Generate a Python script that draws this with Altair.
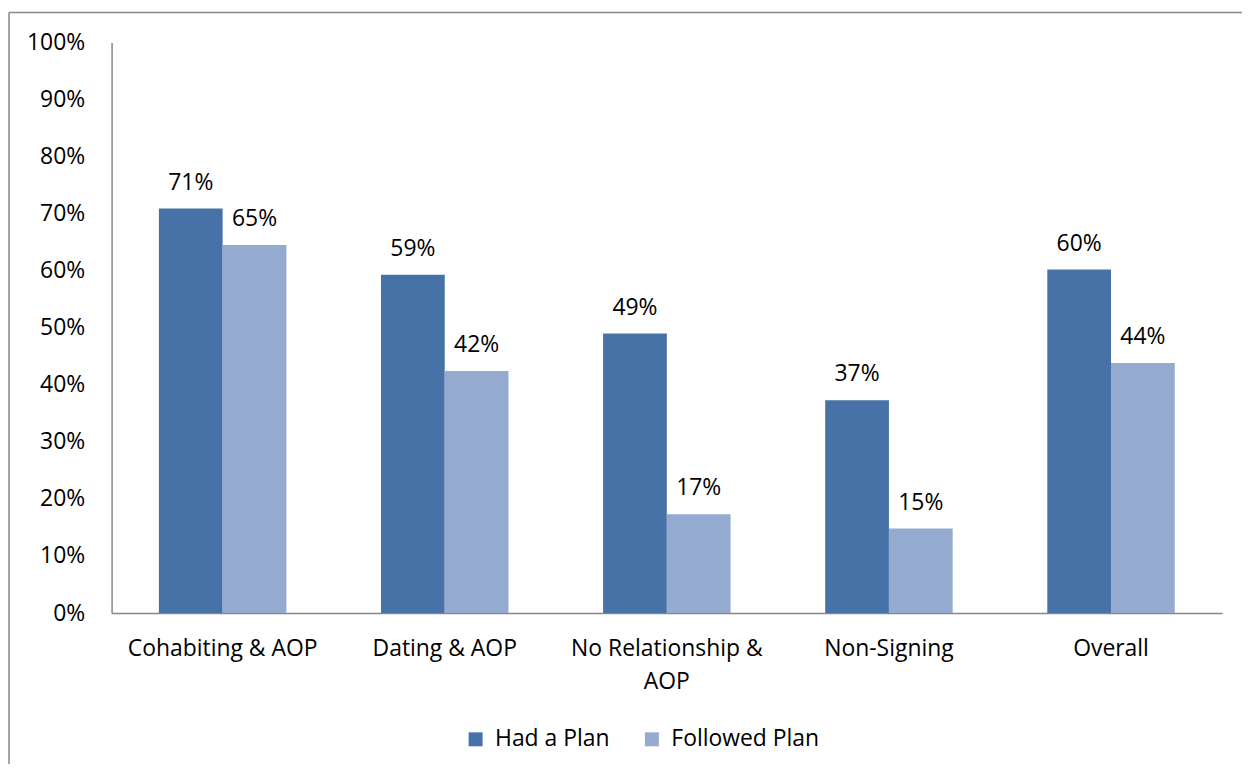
import altair as alt
import pandas as pd

categories = ["Cohabiting & AOP", "Dating & AOP", "No Relationship & AOP", "Non-Signing", "Overall"]
had_plan = [70.9, 59.3, 49.0, 37.3, 60.2]
followed_plan = [64.5, 42.4, 17.3, 14.8, 43.8]
had_plan_labels = ["71%", "59%", "49%", "37%", "60%"]
followed_plan_labels = ["65%", "42%", "17%", "15%", "44%"]
series = ["Had a Plan", "Followed Plan"]
colors = ["#4672A7", "#94AACF"]
y_ticks = [0, 10, 20, 30, 40, 50, 60, 70, 80, 90, 100]

rows = []
for c, h, f, hl, fl in zip(categories, had_plan, followed_plan, had_plan_labels, followed_plan_labels):
    rows.append({"cat": c, "series": series[0], "value": h, "label": hl})
    rows.append({"cat": c, "series": series[1], "value": f, "label": fl})
df = pd.DataFrame(rows)

FONT = "Open Sans"
FS = 23

x_enc = alt.X(
    "cat:N", sort=categories, title=None,
    scale=alt.Scale(paddingInner=0.426, paddingOuter=0.213),
    axis=alt.Axis(
        labelAngle=0, ticks=False, domainColor="#868686", domainWidth=1.5,
        labelPadding=25, labelFontSize=FS, labelFont=FONT, labelColor="#000000",
        labelLimit=400, labelLineHeight=33,
        labelExpr="datum.label == 'No Relationship & AOP' ? ['No Relationship &', 'AOP'] : datum.label",
    ),
)
y_enc = alt.Y(
    "value:Q", title=None,
    scale=alt.Scale(domain=[0, 100], nice=False),
    axis=alt.Axis(
        values=y_ticks, labelExpr="datum.value + '%'", grid=False, ticks=False,
        domainColor="#868686", domainWidth=1.5, labelPadding=27,
        labelFontSize=FS, labelFont=FONT, labelColor="#000000",
    ),
)
color_enc = alt.Color(
    "series:N", sort=series,
    scale=alt.Scale(domain=series, range=colors),
    legend=alt.Legend(
        title=None, orient="none", legendX=354, legendY=688, direction="horizontal",
        symbolType="square", symbolSize=196, symbolStrokeWidth=0, labelFontSize=FS,
        labelFont=FONT, labelColor="#000000", columnPadding=30, labelOffset=8,
    ),
)

base = alt.Chart(df)
bars = base.mark_bar().encode(
    x=x_enc, xOffset=alt.XOffset("series:N", sort=series), y=y_enc, color=color_enc
)
labels = base.mark_text(
    baseline="alphabetic", align="center", dy=-19, fontSize=FS, font=FONT, color="#000000"
).encode(
    x=alt.X("cat:N", sort=categories),
    xOffset=alt.XOffset("series:N", sort=series),
    y="value:Q",
    text="label:N",
)

border = alt.Chart(alt.Data(values=[{}]))
top_line = border.mark_rule(color="#888888", strokeWidth=1.5).encode(
    x=alt.value(-103), x2=alt.value(1200), y=alt.value(-30)
)
left_line = border.mark_rule(color="#888888", strokeWidth=1.5).encode(
    x=alt.value(-103), y=alt.value(-30), y2=alt.value(800)
)

chart = alt.layer(bars, labels, top_line, left_line).properties(
    width=1115, height=573,
    autosize=alt.AutoSizeParams(type="none"),
    padding={"left": 104, "top": 33, "right": 20, "bottom": 150},
).configure(background="#ffffff").configure_view(stroke=None)

chart.save("out.html", embed_options={"renderer": "svg", "actions": False})
